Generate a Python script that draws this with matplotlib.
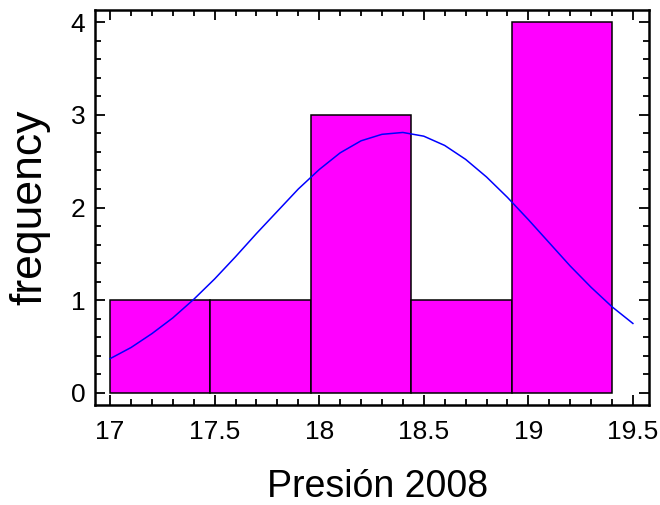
import matplotlib
matplotlib.use("Agg")
import matplotlib.pyplot as plt
from matplotlib.ticker import MultipleLocator

plt.rcParams['font.family'] = ['Liberation Sans', 'DejaVu Sans']

# histogram bins and counts
bin_edges = [17.0, 17.48, 17.96, 18.44, 18.92, 19.40]
counts = [1, 1, 3, 1, 4]

# fitted normal curve
curve_x = [17.0, 17.1, 17.2, 17.3, 17.4, 17.5, 17.6, 17.7, 17.8, 17.9,
           18.0, 18.1, 18.2, 18.3, 18.4, 18.5, 18.6, 18.7, 18.8, 18.9,
           19.0, 19.1, 19.2, 19.3, 19.4, 19.5]
curve_y = [0.37, 0.49, 0.64, 0.81, 1.01, 1.23, 1.47, 1.72, 1.96, 2.20,
           2.41, 2.59, 2.72, 2.79, 2.81, 2.77, 2.67, 2.52, 2.33, 2.11,
           1.87, 1.62, 1.37, 1.14, 0.93, 0.75]

fig = plt.figure(figsize=(6.6, 5.05), dpi=100)
ax = fig.add_axes([0.144, 0.198, 0.839, 0.782])

lefts = bin_edges[:-1]
widths = [b - a for a, b in zip(bin_edges[:-1], bin_edges[1:])]
ax.bar(lefts, counts, width=widths, align='edge', color='#ff00ff',
       edgecolor='black', linewidth=1.1, zorder=2)
ax.plot(curve_x, curve_y, color='#0000ff', linewidth=1.1, zorder=3)

ax.set_xlim(16.928, 19.576)
ax.set_ylim(-0.13, 4.13)
ax.xaxis.set_major_locator(MultipleLocator(0.5))
ax.xaxis.set_minor_locator(MultipleLocator(0.1))
ax.yaxis.set_major_locator(MultipleLocator(1))
ax.yaxis.set_minor_locator(MultipleLocator(0.2))
ax.set_xticks([17, 17.5, 18, 18.5, 19, 19.5])
ax.set_xticklabels(['17', '17.5', '18', '18.5', '19', '19.5'])

ax.tick_params(which='both', direction='in', top=True, right=True,
               width=1.3, labelsize=19)
ax.tick_params(which='major', length=7)
ax.tick_params(which='minor', length=4)
ax.tick_params(axis='x', which='major', pad=11)
ax.tick_params(axis='y', which='major', pad=7)

for sp in ax.spines.values():
    sp.set_linewidth(1.8)

ax.set_xlabel('Presión 2008', fontsize=27, labelpad=18)
ax.set_ylabel('frequency', fontsize=32)
ax.yaxis.set_label_coords(-0.081, 0.5)
ax.xaxis.label.set_x(0.51)

fig.savefig('out.png', dpi=100)
